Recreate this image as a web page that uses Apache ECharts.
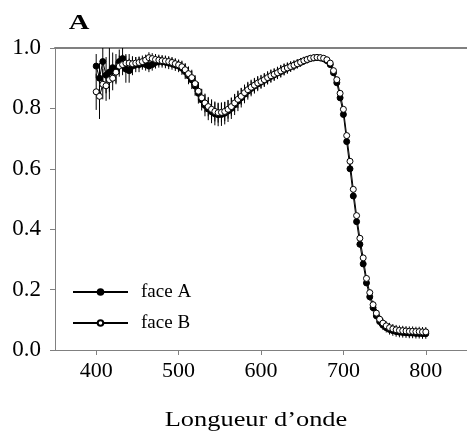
<!DOCTYPE html>
<html>
<head>
<meta charset="utf-8">
<script src="https://cdn.jsdelivr.net/npm/echarts@6/dist/echarts.min.js"></script>
<style>html,body{margin:0;padding:0;background:#fff;}#c{width:467px;height:439px;}</style>
</head>
<body>
<div id="c"></div>
<script>
const wavelengths = [400,404,408,412,416,420,424,428,432,436,440,444,448,452,456,460,464,468,472,476,480,484,488,492,496,500,504,508,512,516,520,524,528,532,536,540,544,548,552,556,560,564,568,572,576,580,584,588,592,596,600,604,608,612,616,620,624,628,632,636,640,644,648,652,656,660,664,668,672,676,680,684,688,692,696,700,704,708,712,716,720,724,728,732,736,740,744,748,752,756,760,764,768,772,776,780,784,788,792,796,800];
const faceA = [0.94,0.90,0.955,0.91,0.92,0.935,0.93,0.955,0.965,0.93,0.925,0.94,0.945,0.945,0.948,0.945,0.94,0.945,0.952,0.955,0.955,0.953,0.95,0.948,0.944,0.94,0.933,0.922,0.908,0.894,0.874,0.85,0.828,0.81,0.798,0.789,0.782,0.779,0.78,0.784,0.791,0.8,0.812,0.824,0.835,0.847,0.857,0.866,0.874,0.881,0.887,0.893,0.9,0.906,0.911,0.917,0.922,0.928,0.933,0.938,0.942,0.947,0.952,0.957,0.961,0.965,0.967,0.968,0.967,0.964,0.958,0.945,0.918,0.885,0.835,0.78,0.69,0.6,0.51,0.425,0.35,0.285,0.222,0.176,0.14,0.113,0.094,0.082,0.074,0.068,0.064,0.061,0.059,0.058,0.057,0.056,0.056,0.055,0.055,0.054,0.054];
const faceB = [0.855,0.84,0.88,0.875,0.895,0.90,0.92,0.94,0.945,0.95,0.95,0.948,0.95,0.952,0.955,0.96,0.968,0.965,0.962,0.96,0.958,0.957,0.955,0.952,0.948,0.944,0.938,0.928,0.915,0.902,0.882,0.857,0.835,0.818,0.806,0.797,0.79,0.786,0.787,0.79,0.797,0.806,0.818,0.83,0.84,0.852,0.862,0.87,0.877,0.884,0.889,0.895,0.902,0.908,0.913,0.918,0.924,0.93,0.934,0.939,0.943,0.948,0.953,0.958,0.962,0.966,0.968,0.969,0.968,0.966,0.961,0.95,0.925,0.895,0.85,0.797,0.71,0.625,0.532,0.445,0.37,0.305,0.237,0.19,0.15,0.122,0.102,0.089,0.08,0.074,0.07,0.067,0.065,0.064,0.063,0.062,0.062,0.061,0.061,0.06,0.06];
const errA = [0.04,0.05,0.09,0.06,0.09,0.05,0.05,0.04,0.04,0.045,0.04,0.03,0.025,0.025,0.02,0.02,0.02,0.02,0.02,0.02,0.02,0.02,0.02,0.02,0.02,0.02,0.022,0.025,0.028,0.03,0.032,0.034,0.035,0.036,0.037,0.038,0.038,0.038,0.038,0.037,0.036,0.035,0.034,0.033,0.032,0.03,0.028,0.026,0.025,0.024,0.022,0.022,0.021,0.021,0.02,0.02,0.02,0.019,0.018,0.017,0.016,0.015,0.014,0.013,0.012,0.011,0.01,0.01,0.01,0.01,0.01,0.01,0.01,0.01,0.01,0.01,0.01,0.01,0.01,0.01,0.01,0.01,0.01,0.012,0.013,0.014,0.015,0.016,0.016,0.017,0.017,0.017,0.017,0.017,0.017,0.017,0.017,0.017,0.017,0.017,0.017];
const errB = [0.06,0.075,0.05,0.05,0.04,0.04,0.035,0.035,0.035,0.03,0.03,0.025,0.02,0.02,0.02,0.018,0.018,0.018,0.018,0.018,0.018,0.018,0.018,0.018,0.018,0.018,0.02,0.022,0.024,0.026,0.028,0.03,0.03,0.031,0.032,0.033,0.033,0.033,0.033,0.032,0.031,0.03,0.03,0.029,0.028,0.027,0.026,0.025,0.024,0.023,0.022,0.022,0.021,0.021,0.02,0.02,0.02,0.019,0.018,0.017,0.016,0.015,0.014,0.013,0.012,0.011,0.01,0.01,0.01,0.01,0.01,0.01,0.01,0.01,0.01,0.01,0.01,0.01,0.01,0.01,0.01,0.01,0.01,0.012,0.013,0.014,0.015,0.015,0.015,0.016,0.016,0.016,0.016,0.016,0.016,0.016,0.016,0.016,0.016,0.016,0.016];
const xTicks = [400,500,600,700,800];
const seriesNames = ['face A','face B'];
const panelTitle = 'A';
const xTitle = 'Longueur d\u2019onde';

const FONT = "'Liberation Serif', 'Times New Roman', serif";
const AXIS_GRAY = '#808080';

function pts(vals){ return wavelengths.map((w,i)=>[w, vals[i]]); }
function errPts(vals, errs){ return wavelengths.map((w,i)=>[w, vals[i], errs[i]]); }
function renderErr(params, api){
  const x = api.value(0), y = api.value(1), e = api.value(2);
  const p1 = api.coord([x, y - e]);
  const p2 = api.coord([x, y + e]);
  return {type:'line', shape:{x1:p1[0], y1:p1[1], x2:p2[0], y2:p2[1]}, style:{stroke:'#000', lineWidth:1}};
}

const chart = echarts.init(document.getElementById('c'), null, {renderer:'canvas'});
chart.setOption({
  animation:false,
  backgroundColor:'#fff',
  grid:{left:55, right:-4, top:48, bottom:89, containLabel:false},
  legend:{
    data:seriesNames, orient:'vertical', left:72, top:282, padding:0, itemWidth:55, itemHeight:7, itemGap:11,
    textStyle:{fontFamily:FONT, fontSize:19, color:'#000', lineHeight:20, padding:[0,0,0,8]},
    selectedMode:false
  },
  xAxis:[{
    type:'value', min:350, max:850, position:'bottom',
    axisLine:{show:true, lineStyle:{color:AXIS_GRAY, width:1}},
    axisTick:{show:true, inside:false, length:5, customValues:xTicks, lineStyle:{color:AXIS_GRAY}},
    axisLabel:{customValues:xTicks, margin:10, fontFamily:FONT, fontSize:22, color:'#000'},
    splitLine:{show:false}
  },{
    type:'value', min:350, max:850, position:'top',
    axisLine:{show:true, lineStyle:{color:AXIS_GRAY, width:2}},
    axisTick:{show:false}, axisLabel:{show:false}, splitLine:{show:false}
  }],
  yAxis:{
    type:'value', min:0, max:1, interval:0.2,
    axisLine:{show:true, lineStyle:{color:AXIS_GRAY, width:1}},
    axisTick:{show:true, inside:false, length:5, lineStyle:{color:AXIS_GRAY}},
    axisLabel:{margin:14, fontFamily:FONT, fontSize:23, color:'#000', formatter:v=>v.toFixed(1)},
    splitLine:{show:false}
  },
  graphic:[
    {type:'text', x:79, y:23, scaleX:1.3, style:{text:panelTitle, x:0, y:0, align:'center', verticalAlign:'middle', font:"bold 22px 'Liberation Serif', 'Times New Roman', serif", fill:'#000'}},
    {type:'text', x:256, y:420, scaleX:1.2, style:{text:xTitle, x:0, y:0, align:'center', verticalAlign:'middle', font:"22px 'Liberation Serif', 'Times New Roman', serif", fill:'#000'}}
  ],
  series:[
    {name:'errA', type:'custom', renderItem:renderErr, data:errPts(faceA, errA), encode:{x:0, y:1}, clip:true, silent:true},
    {name:seriesNames[0], type:'line', data:pts(faceA), symbol:'circle', symbolSize:6, showSymbol:true,
     lineStyle:{color:'#000', width:1}, itemStyle:{color:'#000', borderColor:'#000', borderWidth:1}},
    {name:'errB', type:'custom', renderItem:renderErr, data:errPts(faceB, errB), encode:{x:0, y:1}, clip:true, silent:true},
    {name:seriesNames[1], type:'line', data:pts(faceB), symbol:'circle', symbolSize:6, showSymbol:true,
     lineStyle:{color:'#000', width:1}, itemStyle:{color:'#fff', borderColor:'#000', borderWidth:1}}
  ]
});
</script>
</body>
</html>
